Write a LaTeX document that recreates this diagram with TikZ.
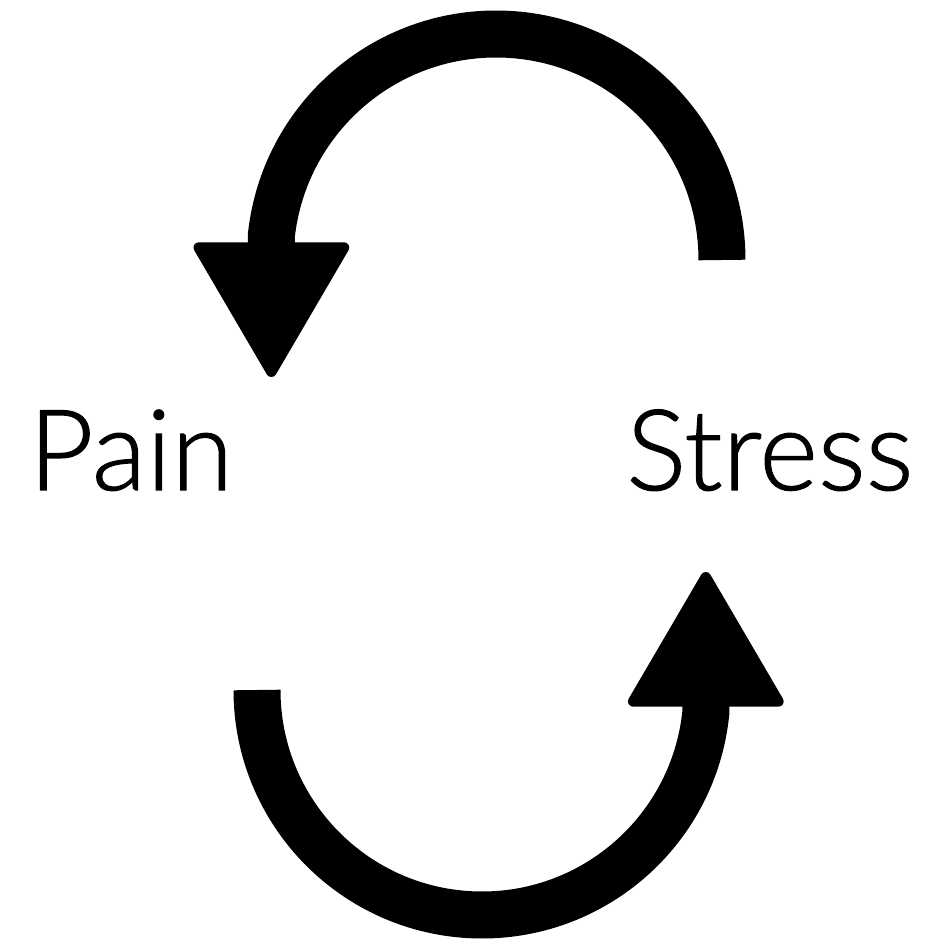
\documentclass[tikz,border=0pt]{standalone}
\usepackage{fontspec}
\setmainfont{Lato}[UprightFont=* Light, FakeBold=1]
\usetikzlibrary{arrows.meta}

\begin{document}
\begin{tikzpicture}[
  every node/.style={font=\fontsize{32}{38}\selectfont, inner sep=0pt},
  cyclearrow/.style={line width=0.47cm, line cap=butt,
    -{Triangle[length=1.40cm, width=1.61cm, line width=3pt, round]}},
]
\useasboundingbox (0,0) rectangle (9.4,9.4);

% Labels
\node[anchor=base west] (pain) at (0.28,4.50) {Pain};
\node[anchor=base east] (stress) at (9.14,4.50) {Stress};

% Arc ends
\coordinate (topstart) at (7.22,6.80);
\coordinate (topend) at (2.714,5.63);
\coordinate (botstart) at (2.57,2.50);
\coordinate (botend) at (7.058,3.68);

% Arrows
\draw[cyclearrow] (topstart) arc[start angle=0, end angle=173.7, radius=2.26] -- (topend);
\draw[cyclearrow] (botstart) arc[start angle=180, end angle=354.1, radius=2.25] -- (botend);

\end{tikzpicture}
\end{document}
